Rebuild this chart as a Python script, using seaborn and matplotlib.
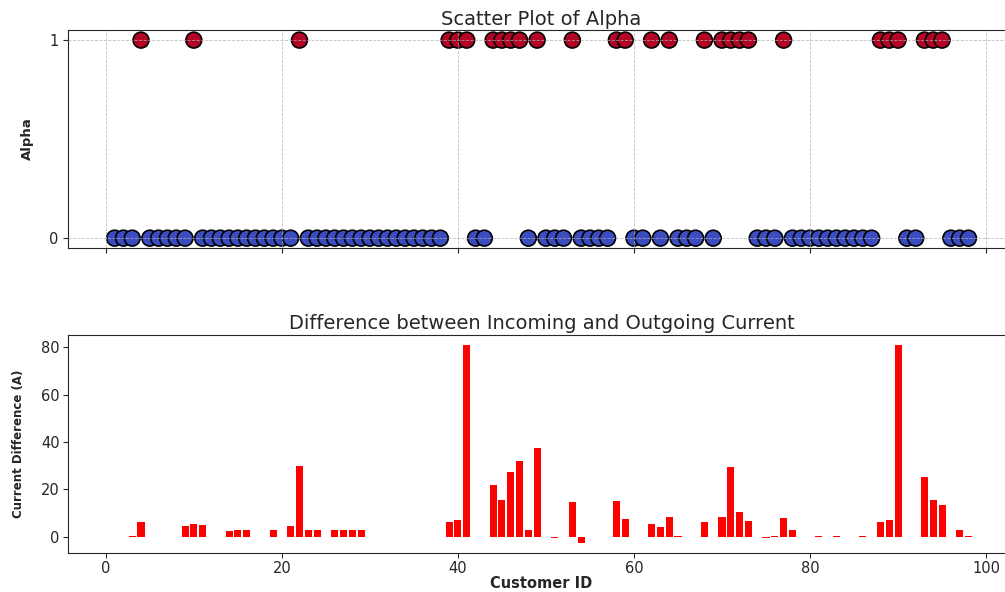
import numpy as np
import pandas as pd
import matplotlib
matplotlib.use("Agg")
import matplotlib.pyplot as plt
import seaborn as sns

# customer ids 1..98
customer_ids = list(range(1, 99))

# alpha flag per customer
alpha = [0, 0, 0, 1, 0, 0, 0, 0, 0, 1,
         0, 0, 0, 0, 0, 0, 0, 0, 0, 0,
         0, 1, 0, 0, 0, 0, 0, 0, 0, 0,
         0, 0, 0, 0, 0, 0, 0, 0, 1, 1,
         1, 0, 0, 1, 1, 1, 1, 0, 1, 0,
         0, 0, 1, 0, 0, 0, 0, 1, 1, 0,
         0, 1, 0, 1, 0, 0, 0, 1, 0, 1,
         1, 1, 1, 0, 0, 0, 1, 0, 0, 0,
         0, 0, 0, 0, 0, 0, 0, 1, 1, 1,
         0, 0, 1, 1, 1, 0, 0, 0]

# incoming - outgoing current (A)
current_diff = [0, 0, 0.5, 6.3, 0, 0, 0, 0, 4.5, 5.6,
                5.2, 0, 0, 2.4, 3.1, 3.1, 0, 0, 3.1, 0,
                4.5, 29.9, 3.1, 3.1, 0, 3.1, 3.1, 3.1, 3.1, 0,
                0, 0, 0, 0, 0, 0, 0, 0, 6.3, 7.1,
                81.1, 0, 0, 21.9, 15.4, 27.2, 31.9, 3.1, 37.7, 0,
                -0.4, 0, 14.7, -2.5, 0, 0, 0, 15.0, 7.5, 0,
                0, 5.6, 4.2, 8.5, 0.3, 0, 0, 6.3, 0, 8.2,
                29.6, 10.3, 6.8, 0, -0.3, 0.3, 7.8, 3.1, 0, 0,
                0.4, 0, 0.4, 0, 0, 0.4, 0, 6.3, 7.1, 81.1,
                0, 0, 25.1, 15.4, 13.4, 0, 3.1, 0.4]

df = pd.DataFrame({"CustomerID": customer_ids, "Alpha": alpha, "Diff": current_diff})

sns.set_style("ticks")
plt.rcParams["font.family"] = ["DejaVu Sans"]

fig = plt.figure(figsize=(10.05, 5.92), dpi=100)
# axes run a little past the right edge, like the reference crop
ax1 = fig.add_axes([0.0677, 0.581, 0.9423, 0.368])
ax2 = fig.add_axes([0.0677, 0.0664, 0.9423, 0.368], sharex=ax1)

palette = {0: "#3b4cc0", 1: "#b40426"}
sns.scatterplot(data=df, x="CustomerID", y="Alpha", hue="Alpha", palette=palette,
                s=130, edgecolor="black", linewidth=1.2, legend=False, ax=ax1)
ax1.set_yticks([0, 1])
ax1.set_title("Scatter Plot of Alpha", fontsize=14, pad=4)
ax1.set_ylabel("Alpha", fontsize=9.5, fontweight="bold")
ax1.yaxis.set_label_coords(-0.036, 0.5)
ax1.set_xlabel("")
ax1.tick_params(labelbottom=False, labelsize=10.5)
ax1.grid(True, linestyle="--", color="#b0b0b0", linewidth=0.6, alpha=0.8)
ax1.set_axisbelow(False)

sns.barplot(data=df, x="CustomerID", y="Diff", native_scale=True, color="red",
            saturation=1, errorbar=None, linewidth=0, ax=ax2)
ax2.set_title("Difference between Incoming and Outgoing Current", fontsize=14, pad=4)
ax2.set_xlabel("Customer ID", fontsize=10.5, fontweight="bold", labelpad=0)
ax2.set_ylabel("Current Difference (A)", fontsize=8.5, fontweight="bold")
ax2.yaxis.set_label_coords(-0.045, 0.5)
ax2.tick_params(labelsize=10.5, pad=2.5)
ax2.set_yticks([0, 20, 40, 60, 80])
ax2.set_xticks([0, 20, 40, 60, 80, 100])

fig.savefig("out.png", dpi=100)
